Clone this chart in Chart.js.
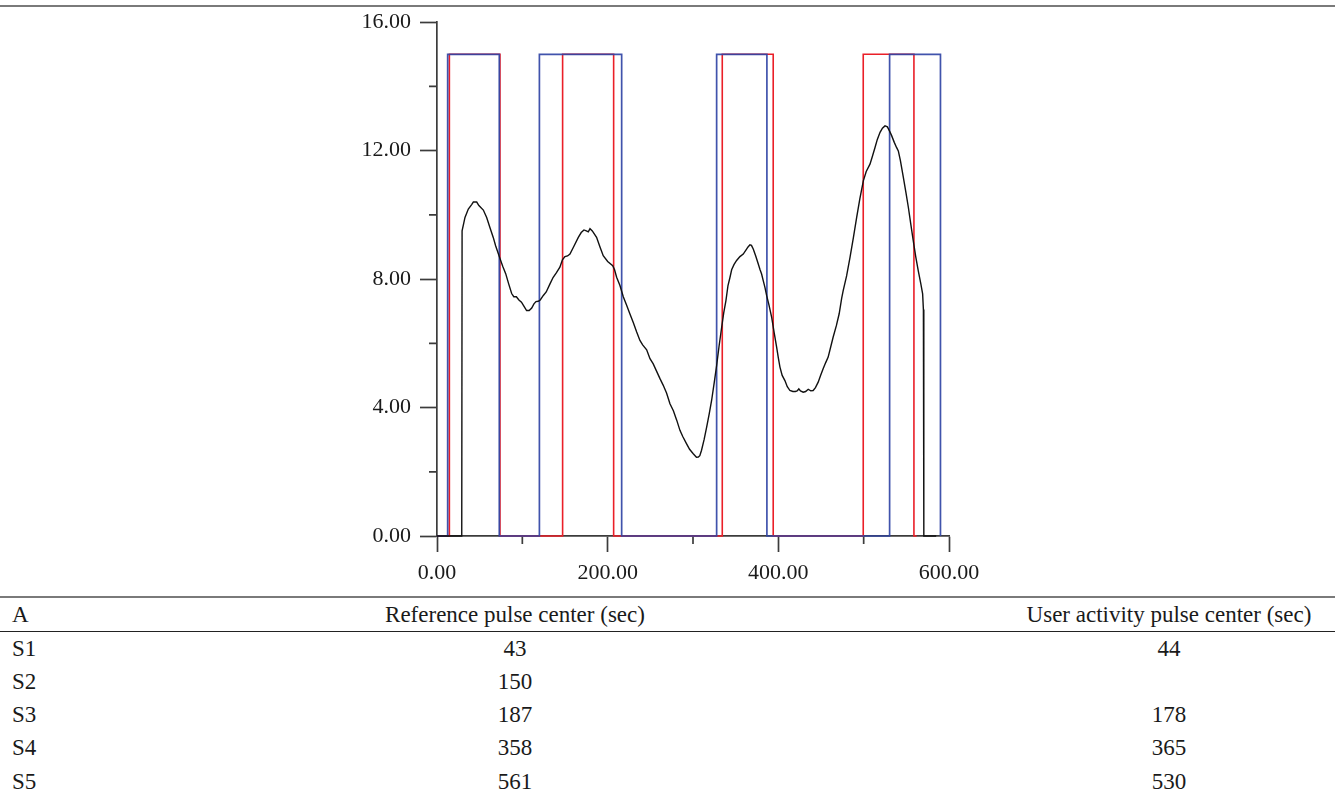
<!DOCTYPE html>
<html>
<head>
<meta charset="utf-8">
<script src="https://cdn.jsdelivr.net/npm/chart.js@4.4.0/dist/chart.umd.min.js"></script>
<style>
  body { margin: 0; background: #fff; width: 1335px; height: 796px; overflow: hidden; position: relative; font-family: "Liberation Serif", "DejaVu Serif", serif; color: #1a1a1a; }
  .topRule { position: absolute; left: 0; top: 5px; width: 1335px; height: 2px; background: #7a7a7a; }
  #chartBox { position: absolute; left: 0; top: 0; width: 1335px; height: 590px; }
  #pulseTable { position: absolute; left: 0; top: 595.5px; width: 1335px; border-top: 2px solid #7a7a7a; font-size: 23px; }
  .row { position: relative; height: 33.3px; line-height: 33.3px; }
  .row.head { height: 33px; line-height: 33px; border-bottom: 1.5px solid #222; }
  .row span { position: absolute; top: 0; white-space: nowrap; }
  .c1 { left: 12px; }
  .c2 { left: 250px; width: 530px; text-align: center; }
  .c3 { left: 1003px; width: 332px; text-align: center; }
</style>
</head>
<body>
<div class="topRule"></div>
<div id="chartBox"><canvas id="chart" width="1335" height="590"></canvas></div>
<div id="pulseTable"></div>
<script>
// pulse edges (sec), both pulses have height 15
const referenceEdges = [[12.5, 73], [120, 216.4], [327.7, 386.6], [530.4, 590]];
const userEdges = [[14.5, 73.8], [147.2, 207], [334.3, 394], [499.5, 558.9]];
const pulseHeight = 15;

// measured activity curve
const curveX = [0, 29, 29.4, 32.8, 36.7, 40.6, 42.6, 46.5, 49.1, 54.3, 58.2, 62.1, 66, 68.7, 73.8, 77, 80.5, 84, 87.5, 90, 93, 96, 99, 102, 105, 108, 111, 113.6, 116, 118.7, 121, 124.6, 128, 132.4, 136, 140, 144, 147, 149.9, 153, 155.8, 160, 165.6, 169, 172.2, 175, 177.3, 179.3, 182, 187, 191, 194.8, 200, 205.9, 208, 210.5, 214.4, 218.3, 222, 226, 230, 234, 237.8, 241, 245.7, 249.6, 253.4, 257, 261.3, 265, 269, 273, 277, 281, 284.7, 288, 292.5, 296, 300.3, 304, 306.2, 308, 310, 313, 316, 319, 321.8, 325, 327.7, 330.5, 333.6, 336, 338.6, 341, 343.3, 345.3, 348, 351.1, 355, 358.9, 362, 364.5, 366.7, 368.5, 370.6, 373.5, 376.5, 378.5, 380.4, 382.3, 384.3, 386.2, 389, 392.2, 395, 398, 400, 401.9, 404.5, 407.7, 410.5, 413.6, 417, 420, 422, 424, 426, 429.1, 432, 435, 438, 440.8, 443.5, 446.7, 449.5, 452.5, 455.5, 458.4, 461.5, 464.2, 468, 471.3, 474.2, 476, 480, 484, 488, 491.8, 495.5, 499.6, 503, 507.4, 510, 513.3, 516, 519.2, 522, 525, 527.8, 530.5, 532.9, 536, 538.5, 540.6, 543, 546.5, 549.5, 552.4, 555, 558.1, 561, 564, 567, 569.1, 570, 570.5, 585];
const curveY = [0, 0, 9.5, 9.92, 10.18, 10.32, 10.4, 10.4, 10.29, 10.15, 9.92, 9.6, 9.29, 9.04, 8.64, 8.4, 8.17, 7.85, 7.55, 7.45, 7.45, 7.35, 7.28, 7.15, 7.02, 7.02, 7.1, 7.23, 7.3, 7.31, 7.35, 7.49, 7.6, 7.85, 8.05, 8.2, 8.37, 8.6, 8.7, 8.72, 8.78, 9.0, 9.3, 9.45, 9.53, 9.5, 9.47, 9.57, 9.5, 9.3, 9.0, 8.73, 8.55, 8.42, 8.3, 8.06, 7.8, 7.45, 7.2, 6.92, 6.65, 6.35, 6.09, 5.95, 5.8, 5.52, 5.36, 5.15, 4.9, 4.7, 4.45, 4.12, 3.9, 3.6, 3.29, 3.1, 2.87, 2.7, 2.56, 2.45, 2.46, 2.5, 2.67, 3.0, 3.39, 3.8, 4.22, 4.8, 5.31, 5.9, 6.5, 6.95, 7.33, 7.8, 8.05, 8.29, 8.45, 8.58, 8.7, 8.78, 8.9, 9.0, 9.07, 9.05, 8.94, 8.72, 8.47, 8.3, 8.16, 7.95, 7.74, 7.5, 7.2, 6.81, 6.35, 5.88, 5.55, 5.26, 5.0, 4.84, 4.65, 4.53, 4.5, 4.5, 4.52, 4.58, 4.52, 4.48, 4.5, 4.57, 4.52, 4.53, 4.62, 4.79, 5.0, 5.21, 5.4, 5.57, 5.9, 6.19, 6.55, 6.92, 7.4, 7.64, 8.1, 8.68, 9.3, 9.92, 10.5, 11.06, 11.35, 11.58, 11.8, 12.1, 12.35, 12.57, 12.7, 12.77, 12.74, 12.6, 12.46, 12.25, 12.1, 11.99, 11.7, 11.17, 10.7, 10.23, 9.75, 9.2, 8.7, 8.26, 7.85, 7.54, 7.05, 0, 0];

const xMajor = 200, xMinorTicks = [100, 300, 500];
const yMajor = 4, yMinorTicks = [2, 6, 10, 14];

// table
const tableHeader = ['A', 'Reference pulse center (sec)', 'User activity pulse center (sec)'];
const sessions = ['S1', 'S2', 'S3', 'S4', 'S5'];
const referenceCenters = ['43', '150', '187', '358', '561'];
const userCenters = ['44', '', '178', '365', '530'];

const axisColor = '#3c3c3c';
const tickFont = { family: '"Liberation Serif", "DejaVu Serif", serif', size: 22 };

function pulsePoints(edges, endX) {
  const pts = [{ x: 0, y: 0 }];
  edges.forEach(([a, b]) => {
    pts.push({ x: a, y: 0 }, { x: a, y: pulseHeight }, { x: b, y: pulseHeight }, { x: b, y: 0 });
  });
  pts.push({ x: endX, y: 0 });
  return pts;
}

const minorTicks = {
  id: 'minorTicks',
  beforeDatasetsDraw(chart) {
    const { ctx, chartArea, scales: { x, y } } = chart;
    ctx.save();
    ctx.strokeStyle = axisColor;
    ctx.lineWidth = 1.7;
    ctx.beginPath();
    xMinorTicks.forEach(v => {
      const px = x.getPixelForValue(v);
      ctx.moveTo(px, chartArea.bottom);
      ctx.lineTo(px, chartArea.bottom + 8);
    });
    yMinorTicks.forEach(v => {
      const py = y.getPixelForValue(v);
      ctx.moveTo(chartArea.left - 8, py);
      ctx.lineTo(chartArea.left, py);
    });
    ctx.stroke();
    ctx.restore();
  }
};

new Chart(document.getElementById('chart'), {
  type: 'line',
  data: {
    datasets: [
      {
        label: 'activity',
        data: curveX.map((x, i) => ({ x, y: curveY[i] })),
        borderColor: '#111',
        borderWidth: 1.4
      },
      {
        label: 'reference',
        data: pulsePoints(referenceEdges, 590),
        borderColor: 'rgba(48, 68, 165, 0.92)',
        borderWidth: 1.7
      },
      {
        label: 'user',
        data: pulsePoints(userEdges, 562),
        borderColor: '#ea1f28',
        borderWidth: 1.6
      }
    ]
  },
  options: {
    responsive: false,
    animation: false,
    events: [],
    elements: { point: { radius: 0 }, line: { tension: 0 } },
    datasets: { line: { clip: false } },
    layout: { padding: { left: 337, right: 386, top: 21, bottom: 10 } },
    plugins: { legend: { display: false }, tooltip: { enabled: false } },
    scales: {
      x: {
        type: 'linear',
        min: 0,
        max: 600,
        afterFit: s => { s.height = 44; },
        border: { color: axisColor, width: 1.7 },
        grid: { drawOnChartArea: false, tickLength: 16, tickColor: axisColor, tickWidth: 1.7 },
        ticks: {
          stepSize: xMajor,
          padding: 8,
          color: '#1a1a1a',
          font: tickFont,
          maxRotation: 0,
          callback: v => v.toFixed(2)
        }
      },
      y: {
        type: 'linear',
        min: 0,
        max: 16,
        afterFit: s => { s.width = 100; },
        border: { color: axisColor, width: 1.7 },
        grid: { drawOnChartArea: false, tickLength: 17, tickColor: axisColor, tickWidth: 1.7 },
        ticks: {
          stepSize: yMajor,
          padding: 9,
          color: '#1a1a1a',
          font: tickFont,
          callback: v => v.toFixed(2)
        }
      }
    }
  },
  plugins: [minorTicks]
});

const table = document.getElementById('pulseTable');
function addRow(cells, cls) {
  const row = document.createElement('div');
  row.className = 'row' + (cls ? ' ' + cls : '');
  cells.forEach((txt, i) => {
    const s = document.createElement('span');
    s.className = 'c' + (i + 1);
    s.textContent = txt;
    row.appendChild(s);
  });
  table.appendChild(row);
}
addRow(tableHeader, 'head');
sessions.forEach((s, i) => addRow([s, referenceCenters[i], userCenters[i]]));
</script>
</body>
</html>
